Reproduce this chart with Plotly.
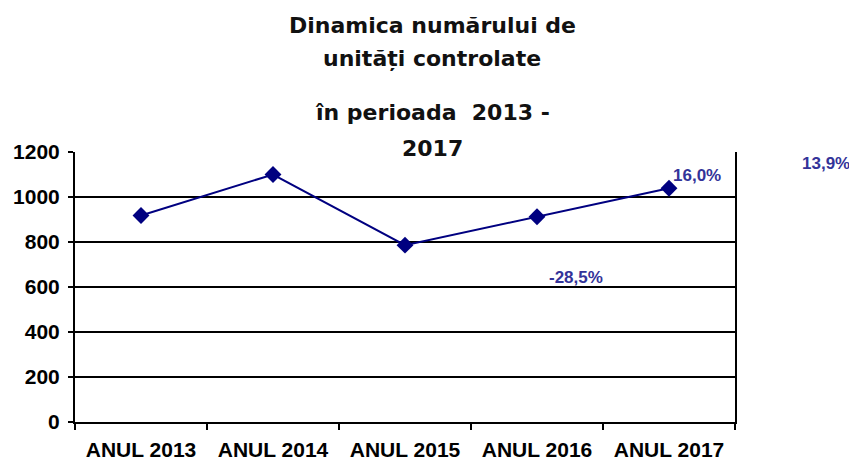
import plotly.graph_objects as go

categories = ["ANUL 2013", "ANUL 2014", "ANUL 2015", "ANUL 2016", "ANUL 2017"]
values = [918, 1100, 786, 912, 1039]
pct_labels = ["-28,5%", "16,0%", "13,9%"]
title_lines = ["Dinamica numărului de", "unități controlate", "în perioada  2013 -", "2017"]

# page has an 8px body margin; size the figure so it ends at the window edges
W, H, OFF = 849, 453, 8
L, R, T, B = 67, 122, 144, 39
PW, PH = W - L - R, H - T - B


def px(x):
    return (x - OFF - L) / PW


def py(y):
    return (H - B - (y - OFF)) / PH


fig = go.Figure()
fig.add_trace(go.Scatter(
    x=categories, y=values, mode="lines+markers",
    line=dict(color="#000080", width=2),
    marker=dict(symbol="diamond", size=13, color="#000080"),
    hoverinfo="x+y", showlegend=False,
))

axis_font = dict(family="Liberation Sans, Arial, sans-serif", size=21, color="black", weight="bold")

fig.update_layout(
    width=W, height=H,
    margin=dict(l=L, r=R, t=T, b=B),
    paper_bgcolor="white", plot_bgcolor="white",
    xaxis=dict(
        type="category", showgrid=False, showline=True, linecolor="black", linewidth=2,
        mirror=False, ticks="outside", tickson="boundaries", ticklen=6, tickwidth=2,
        tickcolor="black", tickfont=axis_font, range=[-0.5, 4.5], automargin=False,
        ticklabelstandoff=8,
    ),
    yaxis=dict(
        range=[0, 1200], dtick=200, showgrid=True, gridcolor="black", gridwidth=1.5,
        showline=True, linecolor="black", linewidth=2, mirror=True, ticks="outside",
        ticklen=5, tickwidth=2, tickcolor="black", tickfont=axis_font, zeroline=False,
        automargin=False, ticklabelstandoff=4,
    ),
)

title_font = dict(family="DejaVu Sans, Verdana, sans-serif", size=22, color="#111111")
title_y = [25, 59, 112, 148]
for txt, yy in zip(title_lines, title_y):
    fig.add_annotation(text="<b>%s</b>" % txt, x=px(432), y=py(yy), xref="paper", yref="paper",
                       showarrow=False, font=title_font, xanchor="center", yanchor="middle")

lab_font = dict(family="Liberation Sans, Arial, sans-serif", size=17, color="#333399")
lab_pos = [(576, 277), (697, 175), (826, 163)]
for txt, (lx, ly) in zip(pct_labels, lab_pos):
    fig.add_annotation(text="<b>%s</b>" % txt, x=px(lx), y=py(ly), xref="paper", yref="paper",
                       showarrow=False, font=lab_font, xanchor="center", yanchor="middle")

fig.write_html("out.html")
